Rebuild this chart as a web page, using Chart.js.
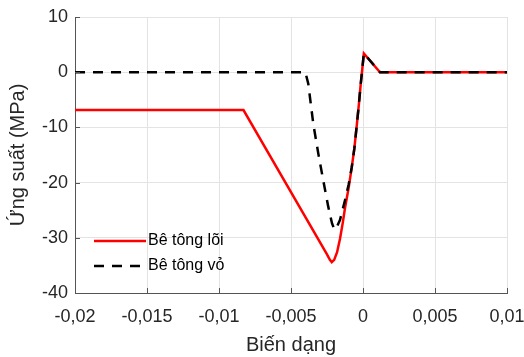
<!DOCTYPE html>
<html>
<head>
<meta charset="utf-8">
<script src="https://cdn.jsdelivr.net/npm/chart.js@4"></script>
<style>
  body { margin: 0; background: #fff; }
  #wrap { width: 524px; height: 357px; }
</style>
</head>
<body>
<div id="wrap"><canvas id="stressChart" width="524" height="357"></canvas></div>
<script>
// Bê tông lõi (core concrete)
const coreStrain = [-0.02, -0.0083, -0.0025, -0.0023, -0.00217, -0.002, -0.0018, -0.0016, -0.0014, -0.00125, -0.001, -0.00078, -0.0006, -0.00044, -0.0003, -0.00016, 0.00006, 0.00118, 0.01];
const coreStress = [-6.85, -6.85, -33.0, -34.0, -34.4, -34.0, -32.6, -30.2, -27.2, -24.6, -21.0, -17.2, -13.8, -9.8, -6.2, -2.2, 3.4, 0, 0];

// Bê tông vỏ (cover concrete)
const coverStrain = [-0.02, -0.004, -0.0038, -0.00345, -0.0031, -0.00276, -0.00241, -0.00215, -0.002, -0.0019, -0.0016, -0.00125, -0.001, -0.00078, -0.0006, -0.00044, -0.0003, -0.00016, 0.00006, 0.00118, 0.01];
const coverStress = [0, 0, -2.1, -9.4, -14.8, -19.6, -24.4, -27.4, -28.4, -28.5, -26.8, -23.2, -20.4, -17.2, -13.8, -9.8, -6.2, -2.2, 3.4, 0, 0];

const xTicks = [-0.02, -0.015, -0.01, -0.005, 0, 0.005, 0.01];
const yTicks = [-40, -30, -20, -10, 0, 10];

const seriesLabels = ['Bê tông lõi', 'Bê tông vỏ'];

const FONT = 'Liberation Sans, Arial, Helvetica, sans-serif';

function toPoints(xs, ys) {
    return xs.map((x, i) => ({ x: x, y: ys[i] }));
}

function fmt(v) {
    const r = Math.round(v * 1000) / 1000;
    return r.toString().replace('.', ',');
}

// simple legend drawn inside the plot, like the matlab one
const insideLegend = {
    id: 'insideLegend',
    afterDatasetsDraw(chart) {
        const ctx = chart.ctx;
        const rows = [
            { y: 241, ds: chart.data.datasets[0] },
            { y: 266, ds: chart.data.datasets[1] }
        ];
        ctx.save();
        rows.forEach(row => {
            ctx.beginPath();
            ctx.setLineDash(row.ds.borderDash || []);
            ctx.strokeStyle = row.ds.borderColor;
            ctx.lineWidth = row.ds.borderWidth;
            ctx.moveTo(94, row.y);
            ctx.lineTo(146, row.y);
            ctx.stroke();
            ctx.setLineDash([]);
            ctx.fillStyle = '#000';
            ctx.font = '16px ' + FONT;
            ctx.textBaseline = 'middle';
            ctx.fillText(row.ds.label, 148, row.y);
        });
        ctx.restore();
    }
};

// small inward tick marks on left and bottom axes
const innerTicks = {
    id: 'innerTicks',
    afterDraw(chart) {
        const ctx = chart.ctx;
        const area = chart.chartArea;
        const xs = chart.scales.x, ys = chart.scales.y;
        ctx.save();
        ctx.strokeStyle = '#555';
        ctx.lineWidth = 1;
        ctx.beginPath();
        xTicks.forEach(t => {
            const px = Math.round(xs.getPixelForValue(t)) + 0.5;
            ctx.moveTo(px, area.bottom);
            ctx.lineTo(px, area.bottom - 5);
        });
        yTicks.forEach(t => {
            const py = Math.round(ys.getPixelForValue(t)) + 0.5;
            ctx.moveTo(area.left, py);
            ctx.lineTo(area.left + 5, py);
        });
        ctx.stroke();
        ctx.restore();
    }
};

const ctx = document.getElementById('stressChart').getContext('2d');
new Chart(ctx, {
    type: 'line',
    data: {
        datasets: [
            {
                label: seriesLabels[0],
                data: toPoints(coreStrain, coreStress),
                borderColor: '#ff0000',
                borderWidth: 2.5,
                pointRadius: 0,
                tension: 0,
                fill: false,
                order: 2
            },
            {
                label: seriesLabels[1],
                data: toPoints(coverStrain, coverStress),
                borderColor: '#000000',
                borderWidth: 2.5,
                borderDash: [10, 8],
                pointRadius: 0,
                tension: 0,
                fill: false,
                order: 1
            }
        ]
    },
    options: {
        responsive: false,
        animation: false,
        layout: { padding: { top: 17, right: 17, left: 0, bottom: 0 } },
        plugins: {
            legend: { display: false },
            tooltip: { enabled: false }
        },
        scales: {
            x: {
                type: 'linear',
                min: xTicks[0],
                max: xTicks[xTicks.length - 1],
                afterBuildTicks: s => { s.ticks = xTicks.map(v => ({ value: v })); },
                afterFit: s => {
                    s.height = 64;
                    s.paddingLeft = 0;
                    s.paddingRight = 0;
                },
                ticks: {
                    callback: v => fmt(v),
                    color: '#262626',
                    font: { family: FONT, size: 18 },
                    padding: 13,
                    maxRotation: 0
                },
                grid: { color: '#e3e3e3', drawTicks: false },
                border: { color: '#555' },
                title: {
                    display: true,
                    text: 'Biến dạng',
                    color: '#262626',
                    font: { family: FONT, size: 20 },
                    padding: { top: 0, bottom: 0 }
                }
            },
            y: {
                min: yTicks[0],
                max: yTicks[yTicks.length - 1],
                afterBuildTicks: s => { s.ticks = yTicks.map(v => ({ value: v })); },
                afterFit: s => {
                    s.width = 75;
                    s.paddingTop = 0;
                    s.paddingBottom = 0;
                },
                ticks: {
                    callback: v => fmt(v),
                    color: '#262626',
                    font: { family: FONT, size: 18 },
                    padding: 7
                },
                grid: { color: '#e3e3e3', drawTicks: false },
                border: { color: '#555' },
                title: {
                    display: true,
                    text: 'Ứng suất (MPa)',
                    color: '#262626',
                    font: { family: FONT, size: 20 },
                    padding: { top: 6, bottom: 0 }
                }
            }
        }
    },
    plugins: [insideLegend, innerTicks]
});
</script>
</body>
</html>
